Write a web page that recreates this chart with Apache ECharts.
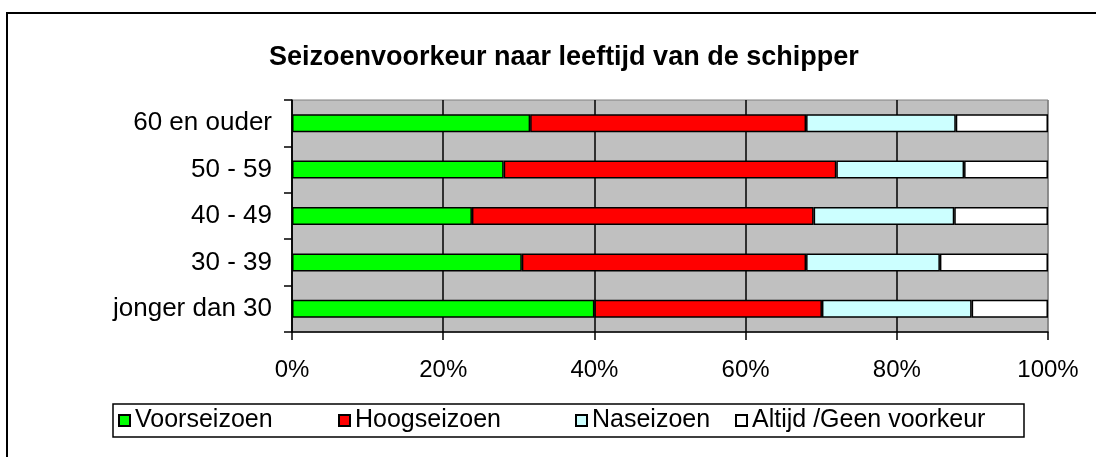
<!DOCTYPE html>
<html>
<head>
<meta charset="utf-8">
<script src="https://cdn.jsdelivr.net/npm/echarts@6/dist/echarts.min.js"></script>
<style>
	html, body { margin: 0; padding: 0; background: #fff; }
	#chart { width: 1096px; height: 457px; }
</style>
</head>
<body>
<div id="chart"></div>
<script>
// leeftijdsgroepen (onderaan eerst)
var categories = [ 'jonger dan 30', '30 - 39', '40 - 49', '50 - 59', '60 en ouder' ];
var seriesNames = [ 'Voorseizoen', 'Hoogseizoen', 'Naseizoen', 'Altijd /Geen voorkeur' ];
var voorseizoen = [ 40.0, 30.4, 23.8, 28.0, 31.5 ];
var hoogseizoen = [ 30.1, 37.6, 45.2, 44.0, 36.5 ];
var naseizoen = [ 19.8, 17.7, 18.6, 16.9, 19.8 ];
var altijd = [ 10.1, 14.3, 12.4, 11.1, 12.2 ];
var xTicks = [ 0, 20, 40, 60, 80, 100 ];

var colors = [ '#00ff00', '#ff0000', '#ccffff', '#ffffff' ];
var values = [ voorseizoen, hoogseizoen, naseizoen, altijd ];
var font = 'Liberation Sans, Arial, sans-serif';
// x-positie van elk legenda-item (Excel verdeelt ze niet gelijk)
var legendLeft = [ 118, 338, 575, 735 ];

var chart = echarts.init(document.getElementById('chart'));

var series = seriesNames.map(function(name, i) {
	return {
		name : name,
		type : 'bar',
		stack : 'totaal',
		barWidth : 18,
		silent : true,
		itemStyle : {
			color : colors[i],
			borderColor : '#000',
			borderWidth : 1.5
		},
		data : values[i]
	};
});

var legends = seriesNames.map(function(name, i) {
	return {
		left : legendLeft[i],
		top : 408,
		padding : 0,
		icon : 'rect',
		itemWidth : 11,
		itemHeight : 11,
		selectedMode : false,
		textStyle : { fontFamily : font, fontSize : 25, color : '#000' },
		data : [ name ]
	};
});

var option = {
	animation : false,
	backgroundColor : '#fff',
	textStyle : { fontFamily : font },
	title : {
		text : 'Seizoenvoorkeur naar leeftijd van de schipper',
		left : 264,
		top : 39,
		textStyle : {
			fontFamily : font,
			fontSize : 27,
			fontWeight : 'bold',
			color : '#000'
		}
	},
	graphic : [ {
		type : 'rect',
		z : -10,
		shape : { x : 7, y : 13, width : 2000, height : 1000 },
		style : { fill : 'none', stroke : '#000', lineWidth : 2 }
	}, {
		// legenda-kader
		type : 'rect',
		shape : { x : 113, y : 404, width : 911, height : 33 },
		style : { fill : '#fff', stroke : '#000', lineWidth : 1.5 }
	} ],
	legend : legends,
	grid : {
		left : 292,
		right : 48,
		top : 100,
		bottom : 125,
		show : true,
		backgroundColor : '#c0c0c0',
		borderColor : '#808080',
		borderWidth : 1
	},
	xAxis : {
		type : 'value',
		min : xTicks[0],
		max : xTicks[xTicks.length - 1],
		interval : 20,
		axisLine : { show : true, lineStyle : { color : '#000', width : 1.5 } },
		axisTick : { show : true, length : 8, lineStyle : { color : '#000', width : 1.5 } },
		axisLabel : {
			margin : 26,
			fontFamily : font,
			fontSize : 24,
			color : '#000',
			formatter : '{value}%'
		},
		splitLine : {
			show : true,
			lineStyle : {
				color : [ '#000', '#000', '#000', '#000', '#000', '#808080' ],
				width : 1.5
			}
		}
	},
	yAxis : {
		type : 'category',
		data : categories,
		axisLine : { show : true, lineStyle : { color : '#000', width : 1.5 } },
		axisTick : { show : true, length : 8, lineStyle : { color : '#000', width : 1.5 } },
		axisLabel : {
			margin : 20,
			fontFamily : font,
			fontSize : 26,
			color : '#000'
		}
	},
	series : series
};

chart.setOption(option);
</script>
</body>
</html>
